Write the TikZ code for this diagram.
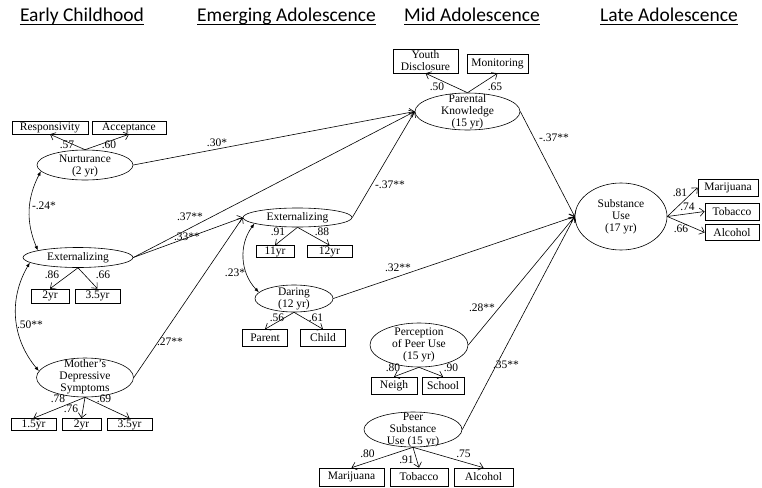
\documentclass[tikz,border=0pt]{standalone}
\usepackage{fontspec}
\setmainfont{Liberation Serif}
\newfontfamily\headfont{Carlito}
\usetikzlibrary{shapes.geometric,arrows.meta}
\begin{document}
\begin{tikzpicture}[x=1pt,y=-1pt,
  every node/.style={inner sep=0pt},
  txt/.style={font=\fontsize{11.5}{12}\selectfont, align=center},
  lat/.style={ellipse, draw, line width=0.6pt},
  obs/.style={draw, line width=0.6pt, font=\fontsize{11.5}{12}\selectfont, align=center},
  lab/.style={font=\fontsize{11.5}{12}\selectfont},
  pth/.style={draw, line width=0.6pt, -{Straight Barb[length=4.5pt,width=8pt]}},
  cov/.style={draw, line width=0.6pt, {Latex[length=4.5pt,width=3.5pt]}-{Latex[length=4.5pt,width=3.5pt]}},
  head/.style={font=\headfont\fontsize{19.5}{21}\selectfont, anchor=base},
  uline/.style={line width=0.9pt}
]
\useasboundingbox (0,0) rectangle (762,487);

% headings
\node[head] (h1) at (82,22) {Early Childhood};
\node[head] (h2) at (286.5,22) {Emerging Adolescence};
\node[head] (h3) at (472,22) {Mid Adolescence};
\node[head] (h4) at (669,22) {Late Adolescence};
\foreach \h in {h1,h2,h3,h4}
  \draw[uline] ([yshift=-2.5pt]\h.base west) -- ([yshift=-2.5pt]\h.base east);

% latent variables
\node[lat, minimum width=96pt, minimum height=30pt] (nur) at (85,165) {};
\node[txt] (nurT) at (85,166) {Nurturance\\(2 yr)};
\node[lat, minimum width=110pt, minimum height=20pt] (ext1) at (78,257.5) {};
\node[txt] (ext1T) at (ext1) {Externalizing};
\node[lat, minimum width=97pt, minimum height=39pt] (mds) at (85,377.5) {};
\node[txt] (mdsT) at (85,377) {Mother’s\\Depressive\\Symptoms};
\node[lat, minimum width=109pt, minimum height=19pt] (ext2) at (297.5,217.5) {};
\node[txt] (ext2T) at (ext2) {Externalizing};
\node[lat, minimum width=78pt, minimum height=27pt] (dar) at (294,298.5) {};
\node[txt] (darT) at (dar) {Daring\\(12 yr)};
\node[lat, minimum width=105pt, minimum height=37pt] (pk) at (467.5,111.5) {};
\node[txt] (pkT) at (pk) {Parental\\Knowledge\\(15 yr)};
\node[lat, minimum width=92pt, minimum height=67pt] (su) at (621,216.5) {};
\node[txt] (suT) at (su) {Substance\\Use\\(17 yr)};
\node[lat, minimum width=98pt, minimum height=44pt] (perc) at (419,345) {};
\node[txt] (percT) at (perc) {Perception\\of Peer Use\\(15 yr)};
\node[lat, minimum width=98pt, minimum height=35pt] (psu) at (413,429.5) {};
\node[txt] (psuT) at (413,430) {Peer\\Substance\\Use (15 yr)};

% observed variables
\node[obs, minimum width=76pt, minimum height=13pt] (resp) at (50,127.5) {Responsivity};
\node[obs, minimum width=74pt, minimum height=13pt] (acc) at (129,127.5) {Acceptance};
\node[obs, minimum width=38pt, minimum height=14pt] (e1a) at (50,296) {2yr};
\node[obs, minimum width=45pt, minimum height=14pt] (e1b) at (97.5,296) {3.5yr};
\node[obs, minimum width=45pt, minimum height=12pt] (m1) at (33.5,424.5) {1.5yr};
\node[obs, minimum width=39pt, minimum height=12pt] (m2) at (81.5,424.5) {2yr};
\node[obs, minimum width=45pt, minimum height=12pt] (m3) at (129.5,424.5) {3.5yr};
\node[obs, minimum width=38pt, minimum height=12pt] (e2a) at (275,251.5) {11yr};
\node[obs, minimum width=45pt, minimum height=12pt] (e2b) at (329.5,251.5) {12yr};
\node[obs, minimum width=45pt, minimum height=17pt] (par) at (265,338) {Parent};
\node[obs, minimum width=45pt, minimum height=17pt] (chi) at (323,338) {Child};
\node[obs, minimum width=65pt, minimum height=24pt] (yd) at (425.5,61) {Youth\\Disclosure};
\node[obs, minimum width=61pt, minimum height=19pt] (mon) at (497.5,63.5) {Monitoring};
\node[obs, minimum width=60pt, minimum height=17pt] (sm) at (728,187.5) {Marijuana};
\node[obs, minimum width=54pt, minimum height=17pt] (st) at (732,211.5) {Tobacco};
\node[obs, minimum width=54pt, minimum height=16pt] (sa) at (732,232.5) {Alcohol};
\node[obs, minimum width=46pt, minimum height=17pt] (nei) at (394,385.5) {Neigh};
\node[obs, minimum width=42pt, minimum height=17pt] (sch) at (443,385.5) {School};
\node[obs, minimum width=65pt, minimum height=18pt] (pm) at (351.5,477) {Marijuana};
\node[obs, minimum width=58pt, minimum height=18pt] (pt) at (419,477) {Tobacco};
\node[obs, minimum width=59pt, minimum height=18pt] (pa) at (483.5,477) {Alcohol};

% measurement arrows
\draw[pth] (nur.north) -- (resp.south);
\draw[pth] (nur.north) -- (acc.south);
\draw[pth] (ext1.south) -- (e1a.north);
\draw[pth] (ext1.south) -- (e1b.north);
\draw[pth] (mds.south) -- (m1.north);
\draw[pth] (mds.south) -- (m2.north);
\draw[pth] (mds.south) -- (m3.north);
\draw[pth] (ext2.south) -- (e2a.north);
\draw[pth] (ext2.south) -- (e2b.north);
\draw[pth] (dar.south) -- (par.north);
\draw[pth] (dar.south) -- (chi.north);
\draw[pth] (pk.north) -- (yd.south);
\draw[pth] (pk.north) -- (mon.south);
\draw[pth] (su.east) -- (sm.west);
\draw[pth] (su.east) -- (st.west);
\draw[pth] (su.east) -- (sa.west);
\draw[pth] (perc.south) -- (nei.north);
\draw[pth] (perc.south) -- (sch.north);
\draw[pth] (psu.south) -- (pm.north);
\draw[pth] (psu.south) -- (pt.north);
\draw[pth] (psu.south) -- (pa.north);

% structural paths
\draw[pth] (nur.east) -- (pk.west);
\draw[pth] (ext1.east) -- (pk.west);
\draw[pth] (ext1.east) -- (ext2.west);
\draw[pth] (mds.east) -- (ext2.west);
\draw[pth] (ext2.east) -- (pk.west);
\draw[pth] (pk.east) -- (su.west);
\draw[pth] (dar.east) -- (su.west);
\draw[pth] (perc.east) -- (su.west);
\draw[pth] (psu.east) -- (su.west);

% covariances
\draw[cov] (nur.188) to[bend right=25] (ext1.170);
\draw[cov] (ext1.186) to[bend right=35] (mds.172);
\draw[cov] (ext2.188) to[bend right=40] (dar.170);

% loadings
\node[lab] (l1) at (67,145) {.57};
\node[lab] (l2) at (109,145) {.60};
\node[lab] (l3) at (52,275) {.86};
\node[lab] (l4) at (103,275) {.66};
\node[lab] (l5) at (58,399) {.78};
\node[lab] (l6) at (71,409) {.76};
\node[lab] (l7) at (104,399) {.69};
\node[lab] (l8) at (278,232) {.91};
\node[lab] (l9) at (322,232) {.88};
\node[lab] (l10) at (277,318) {.56};
\node[lab] (l11) at (316,318) {.61};
\node[lab] (l12) at (437,87) {.50};
\node[lab] (l13) at (495,87) {.65};
\node[lab] (l14) at (680,193) {.81};
\node[lab] (l15) at (687.5,207) {.74};
\node[lab] (l16) at (681,229) {.66};
\node[lab] (l17) at (393,368) {.80};
\node[lab] (l18) at (451,368) {.90};
\node[lab] (l19) at (367.5,454) {.80};
\node[lab] (l20) at (406.5,460) {.91};
\node[lab] (l21) at (463.5,454) {.75};

% path coefficients
\node[lab] (c1) at (44,206) {-.24*};
\node[lab] (c2) at (30,325) {.50**};
\node[lab] (c3) at (235,273) {.23*};
\node[lab] (c4) at (217,143) {.30*};
\node[lab] (c5) at (190,217) {.37**};
\node[lab] (c6) at (187,237) {.33**};
\node[lab] (c7) at (170,342) {.27**};
\node[lab] (c8) at (390,185) {-.37**};
\node[lab] (c9) at (554,138) {-.37**};
\node[lab] (c10) at (398,268) {.32**};
\node[lab] (c11) at (482,308) {.28**};
\node[lab] (c12) at (506,365) {.35**};
\end{tikzpicture}
\end{document}
